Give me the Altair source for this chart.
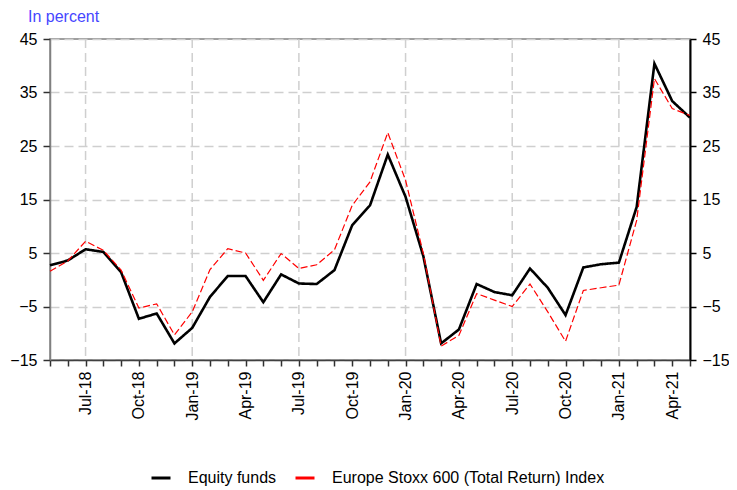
import altair as alt
import pandas as pd

months = ["May-18", "Jun-18", "Jul-18", "Aug-18", "Sep-18", "Oct-18", "Nov-18", "Dec-18",
          "Jan-19", "Feb-19", "Mar-19", "Apr-19", "May-19", "Jun-19", "Jul-19", "Aug-19",
          "Sep-19", "Oct-19", "Nov-19", "Dec-19", "Jan-20", "Feb-20", "Mar-20", "Apr-20",
          "May-20", "Jun-20", "Jul-20", "Aug-20", "Sep-20", "Oct-20", "Nov-20", "Dec-20",
          "Jan-21", "Feb-21", "Mar-21", "Apr-21", "May-21"]

equity_funds = [2.7, 3.6, 5.7, 5.2, 1.4, -7.3, -6.3, -11.9,
                -9.0, -3.2, 0.7, 0.7, -4.2, 1.0, -0.7, -0.8,
                1.8, 10.2, 13.9, 23.4, 15.5, 4.4, -11.9, -9.3,
                -0.8, -2.3, -2.9, 2.1, -1.5, -6.6, 2.3, 2.9,
                3.2, 13.6, 40.4, 33.4, 30.3]

stoxx600 = [1.6, 3.5, 7.2, 5.5, 1.8, -5.3, -4.5, -10.3,
            -6.0, 1.9, 5.8, 5.0, -0.1, 4.9, 2.1, 2.8,
            5.6, 13.9, 18.3, 27.5, 18.6, 4.9, -12.4, -10.4,
            -2.6, -3.8, -5.0, -0.8, -6.0, -11.5, -2.0, -1.5,
            -1.0, 11.1, 37.6, 32.0, 30.7]

series_names = ["Equity funds", "Europe Stoxx 600 (Total Return) Index"]
grid_months = ["Jul-18", "Jan-19", "Jul-19", "Jan-20", "Jul-20", "Jan-21"]
y_ticks = [-15, -5, 5, 15, 25, 35, 45]

df = pd.concat([
    pd.DataFrame({"month": months, "value": equity_funds, "series": series_names[0]}),
    pd.DataFrame({"month": months, "value": stoxx600, "series": series_names[1]}),
])
df["style"] = df["series"].map({series_names[0]: "solid", series_names[1]: "dashed"})
grid_df = pd.DataFrame({"month": grid_months})

FONT = "Liberation Sans"
x_scale = alt.Scale(type="point", domain=months, padding=0)
y_scale = alt.Scale(domain=[-15, 45], nice=False, zero=False)

x_axis = alt.Axis(
    title=None, grid=False, labelAngle=-90, labelFontSize=16, labelFont=FONT,
    labelColor="black", tickColor="#303030", tickSize=6, tickWidth=1.5,
    domainColor="#404040", domainWidth=1.5, labelPadding=5,
    labelExpr="(slice(datum.label,0,3)=='Jan' || slice(datum.label,0,3)=='Apr' || "
              "slice(datum.label,0,3)=='Jul' || slice(datum.label,0,3)=='Oct') ? datum.label : ''",
)

left_axis = alt.Axis(
    title=None, values=y_ticks, grid=True, gridColor="#cfcfcf", gridDash=[9, 5], gridWidth=1.5,
    labelFontSize=16, labelFont=FONT, labelColor="black", tickColor="#303030",
    tickSize=7, tickWidth=1.5, domainColor="#808080", domainWidth=1.5, labelPadding=6,
    orient="left",
)
right_axis = alt.Axis(
    title=None, values=y_ticks, grid=False,
    labelFontSize=16, labelFont=FONT, labelColor="black", tickColor="black",
    tickSize=6, tickWidth=1.5, domainColor="black", domainWidth=2, labelPadding=6,
    orient="right",
)

vgrid = alt.Chart(grid_df).mark_rule(color="#cfcfcf", strokeDash=[9, 5], strokeWidth=1.5).encode(
    x=alt.X("month:O", scale=x_scale, axis=x_axis)
)

lines = alt.Chart(df).mark_line().encode(
    x=alt.X("month:O", scale=x_scale, axis=x_axis),
    y=alt.Y("value:Q", scale=y_scale, axis=left_axis),
    color=alt.Color("series:N", scale=alt.Scale(domain=series_names, range=["black", "red"]),
                    legend=alt.Legend(title=None, orient="none", direction="horizontal",
                                      legendX=100, legendY=428)),
    strokeDash=alt.StrokeDash("style:N", scale=alt.Scale(domain=["solid", "dashed"], range=[[1, 0], [7, 3]]),
                              legend=None),
    strokeWidth=alt.StrokeWidth("style:N", scale=alt.Scale(domain=["solid", "dashed"], range=[2.6, 1.2]),
                                legend=None),
    order=alt.Order("series:N", sort="descending"),
)

right_layer = alt.Chart(df).mark_line(opacity=0).encode(
    x=alt.X("month:O", scale=x_scale, axis=x_axis),
    y=alt.Y("value:Q", scale=y_scale, axis=right_axis),
)

chart = alt.layer(vgrid, lines, right_layer).resolve_axis(y="independent").properties(
    width=640, height=321,
    padding={"left": 42, "top": 31, "right": 39, "bottom": 128},
    autosize=alt.AutoSizeParams(type="none"),
    title=alt.TitleParams("In percent", anchor="start", frame="group", dx=-22, offset=6,
                          color="#4646ff", fontSize=16, font=FONT, fontWeight="normal"),
).configure(font=FONT).configure_view(stroke="#808080", strokeWidth=1.5).configure_legend(
    labelFont=FONT, labelFontSize=16, labelColor="black", symbolType="stroke",
    symbolStrokeWidth=3, symbolSize=361, labelOffset=16, columnPadding=12, padding=0,
    labelLimit=400,
)

chart.save("out.html", embed_options={"renderer": "svg", "actions": False})
